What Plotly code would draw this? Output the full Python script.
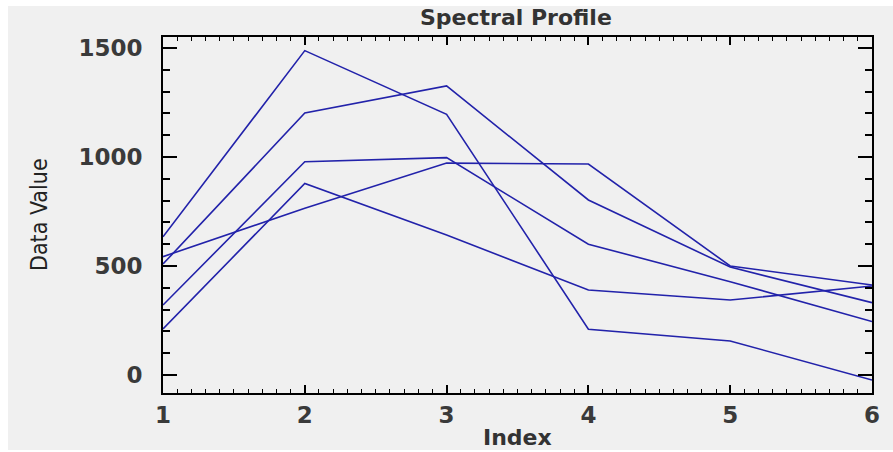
import plotly.graph_objects as go

# Band index along the x axis
index = [1, 2, 3, 4, 5, 6]

# Spectral profiles (one list per pixel)
profile_a = [509, 1202, 1326, 803, 495, 332]
profile_b = [634, 1488, 1196, 210, 156, -23]
profile_c = [321, 978, 997, 600, 428, 245]
profile_d = [211, 879, 642, 390, 344, 408]
profile_e = [543, 765, 972, 968, 500, 413]

profiles = [profile_a, profile_b, profile_c, profile_d, profile_e]

x_tick_vals = [1, 2, 3, 4, 5, 6]
y_tick_vals = [0, 500, 1000, 1500]

LINE_COLOR = "#2222aa"
TEXT_COLOR = "#3a3a3a"
BG = "#f0f0f0"
BOLD_FONT = "DejaVu Sans, Verdana, sans-serif"

fig = go.Figure()
for prof in profiles:
    fig.add_trace(go.Scatter(
        x=index, y=prof, mode="lines",
        line=dict(color=LINE_COLOR, width=1.6),
        showlegend=False, hoverinfo="x+y",
    ))

W, H = 893, 452
L, R, T, B = 163, 21, 37, 59
pw, ph = W - L - R, H - T - B

def px_x(p):
    return (p - L) / pw

def px_y(p):
    return (H - B - p) / ph

fig.update_layout(
    width=W, height=H,
    margin=dict(l=L, r=R, t=T, b=B, pad=0),
    paper_bgcolor="white",
    plot_bgcolor=BG,
    shapes=[dict(
        type="rect", xref="paper", yref="paper", layer="below",
        x0=px_x(8), x1=px_x(893), y0=px_y(450), y1=px_y(6),
        fillcolor=BG, line=dict(width=0),
    )],
    xaxis=dict(
        range=[1, 6], tickvals=x_tick_vals,
        ticks="inside", ticklen=8, tickwidth=1.5, tickcolor="black",
        showline=True, linecolor="black", linewidth=2, mirror="ticks",
        showgrid=False, zeroline=False,
        minor=dict(dtick=0.1, ticks="inside", ticklen=4, tickwidth=1, tickcolor="black", showgrid=False),
        tickfont=dict(family=BOLD_FONT, size=23, color=TEXT_COLOR, weight="bold"),
        ticklabelstandoff=0,
    ),
    yaxis=dict(
        range=[-82.6, 1550.5], tickvals=y_tick_vals,
        ticks="inside", ticklen=14, tickwidth=1.5, tickcolor="black",
        showline=True, linecolor="black", linewidth=2, mirror="ticks",
        showgrid=False, zeroline=False,
        minor=dict(dtick=100, ticks="inside", ticklen=7, tickwidth=1.5, tickcolor="black", showgrid=False),
        tickfont=dict(family=BOLD_FONT, size=23, color=TEXT_COLOR, weight="bold"),
        ticklabelstandoff=14,
    ),
    annotations=[
        dict(text="<b>Spectral Profile</b>", xref="paper", yref="paper",
             x=px_x(516), y=px_y(18), xanchor="center", yanchor="middle",
             showarrow=False,
             font=dict(family=BOLD_FONT, size=22, color="#333333")),
        dict(text="<b>Index</b>", xref="paper", yref="paper",
             x=px_x(517), y=px_y(437), xanchor="center", yanchor="middle",
             showarrow=False,
             font=dict(family=BOLD_FONT, size=22, color="#333333")),
        dict(text="Data Value", xref="paper", yref="paper",
             x=px_x(39), y=px_y(215), xanchor="center", yanchor="middle",
             textangle=-90, showarrow=False,
             font=dict(family="DejaVu Sans Condensed, Liberation Sans Narrow, sans-serif",
                       size=23, color="#222222")),
    ],
)

fig.write_html("out.html")
